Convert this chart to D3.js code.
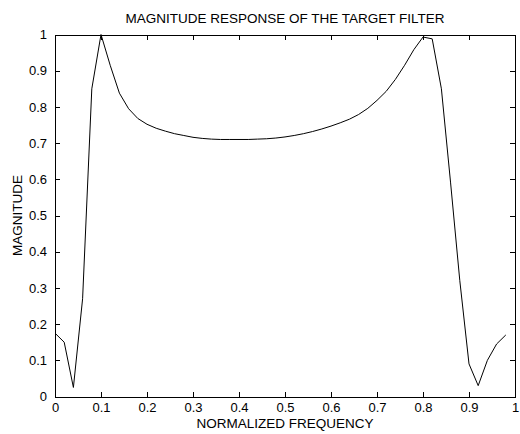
<!DOCTYPE html>
<html>
<head>
<meta charset="utf-8">
<script src="https://cdn.jsdelivr.net/npm/d3@7"></script>
<style>
  html, body { margin: 0; padding: 0; background: #fff; }
  svg { display: block; }
  text { font-family: "Liberation Sans", Arial, sans-serif; fill: #000; }
</style>
</head>
<body>
<svg id="chart" width="520" height="434"></svg>
<script>
// ---- data ----
const frequency = [0.00,0.02,0.04,0.06,0.08,0.10,0.12,0.14,0.16,0.18,
                   0.20,0.22,0.24,0.26,0.28,0.30,0.32,0.34,0.36,0.38,
                   0.40,0.42,0.44,0.46,0.48,0.50,0.52,0.54,0.56,0.58,
                   0.60,0.62,0.64,0.66,0.68,0.70,0.72,0.74,0.76,0.78,
                   0.80,0.82,0.84,0.86,0.88,0.90,0.92,0.94,0.96,0.98];
const magnitude = [0.175,0.150,0.025,0.270,0.850,1.000,0.915,0.838,0.795,0.768,
                   0.752,0.741,0.733,0.726,0.721,0.716,0.713,0.711,0.710,0.710,
                   0.710,0.710,0.711,0.712,0.714,0.717,0.721,0.726,0.732,0.739,
                   0.747,0.756,0.766,0.779,0.796,0.818,0.843,0.876,0.915,0.958,
                   0.993,0.988,0.850,0.590,0.320,0.090,0.030,0.100,0.145,0.170];
const xTicks = [0,0.1,0.2,0.3,0.4,0.5,0.6,0.7,0.8,0.9,1];
const xTickLabels = ["0","0.1","0.2","0.3","0.4","0.5","0.6","0.7","0.8","0.9","1"];
const yTicks = [0,0.1,0.2,0.3,0.4,0.5,0.6,0.7,0.8,0.9,1];
const yTickLabels = ["0","0.1","0.2","0.3","0.4","0.5","0.6","0.7","0.8","0.9","1"];
const titleText = "MAGNITUDE RESPONSE OF THE TARGET FILTER";
const xLabelText = "NORMALIZED FREQUENCY";
const yLabelText = "MAGNITUDE";

// ---- layout ----
const pLeft = 55, pRight = 515, pTop = 34.5, pBottom = 396.5;
const svg = d3.select("#chart");

const x = d3.scaleLinear().domain([0, 1]).range([pLeft, pRight]);
const y = d3.scaleLinear().domain([0, 1]).range([pBottom, pTop]);

function styleAxis(g) {
  g.selectAll("path.domain").attr("stroke", "#000").attr("stroke-width", 1).attr("shape-rendering", "crispEdges");
  g.selectAll(".tick line").attr("stroke", "#000").attr("shape-rendering", "crispEdges");
  g.selectAll("text").attr("font-size", 13).attr("font-family", "Liberation Sans, Arial, sans-serif").attr("fill", "#000");
}

// bottom axis
svg.append("g")
  .attr("transform", `translate(0,${pBottom})`)
  .call(d3.axisBottom(x).tickValues(xTicks).tickSizeInner(-5).tickSizeOuter(0).tickPadding(6)
        .tickFormat((d, i) => xTickLabels[i]))
  .call(styleAxis);

// top axis (ticks only)
svg.append("g")
  .attr("transform", `translate(0,${pTop})`)
  .call(d3.axisTop(x).tickValues(xTicks).tickSizeInner(-5).tickSizeOuter(0).tickFormat(""))
  .call(styleAxis);

// left axis
svg.append("g")
  .attr("transform", `translate(${pLeft},0)`)
  .call(d3.axisLeft(y).tickValues(yTicks).tickSizeInner(-5).tickSizeOuter(0).tickPadding(8)
        .tickFormat((d, i) => yTickLabels[i]))
  .call(styleAxis);

// right axis (ticks only)
svg.append("g")
  .attr("transform", `translate(${pRight},0)`)
  .call(d3.axisRight(y).tickValues(yTicks).tickSizeInner(-5).tickSizeOuter(0).tickFormat(""))
  .call(styleAxis);

// curve
const line = d3.line().x((d, i) => x(frequency[i])).y(d => y(d));
svg.append("path")
  .datum(magnitude)
  .attr("fill", "none")
  .attr("stroke", "#000")
  .attr("stroke-width", 1)
  .attr("d", line);

// title & labels
svg.append("text")
  .attr("x", (pLeft + pRight) / 2).attr("y", 23)
  .attr("text-anchor", "middle").attr("font-size", 13.5)
  .text(titleText);

svg.append("text")
  .attr("x", (pLeft + pRight) / 2).attr("y", 428)
  .attr("text-anchor", "middle").attr("font-size", 13.5)
  .text(xLabelText);

svg.append("text")
  .attr("transform", `translate(22,${(pTop + pBottom) / 2}) rotate(-90)`)
  .attr("text-anchor", "middle").attr("font-size", 13.5)
  .text(yLabelText);
</script>
</body>
</html>
